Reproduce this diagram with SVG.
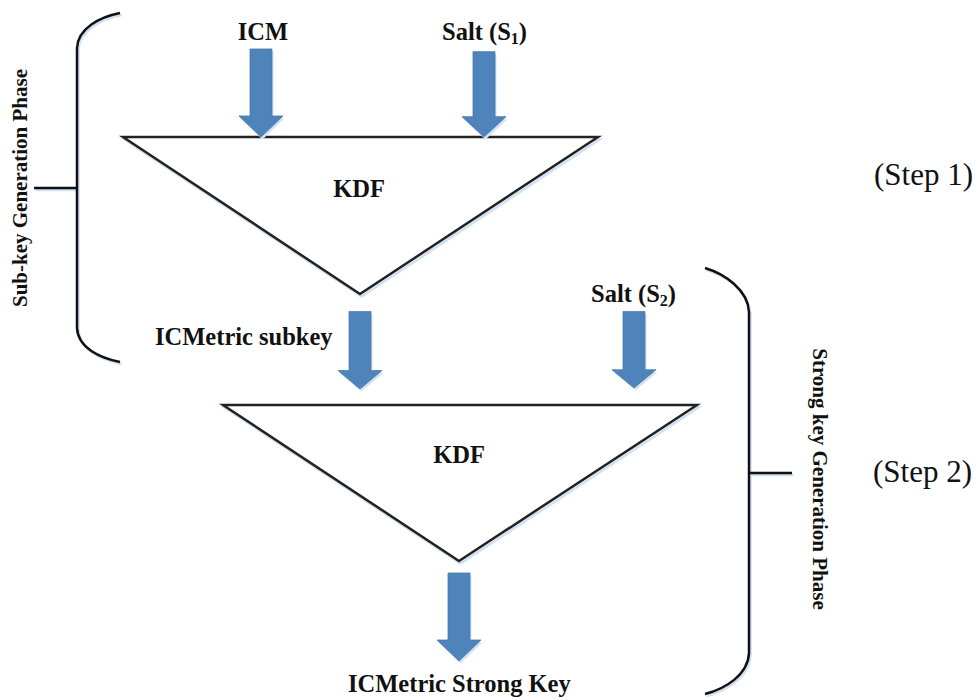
<svg xmlns="http://www.w3.org/2000/svg" width="978" height="700" viewBox="0 0 978 700">
  <style>
    .lbl { font-family: "Liberation Serif", "Times New Roman", serif; font-weight: bold; font-size: 24.5px; fill: #111; }
    .sub { font-size: 16px; }
    .phase { font-family: "Liberation Serif", "Times New Roman", serif; font-weight: bold; font-size: 21px; fill: #111; }
    .step { font-family: "Liberation Serif", "Times New Roman", serif; font-size: 31px; fill: #111; }
    .tri { fill: #fff; stroke: #222; stroke-width: 2.5; stroke-linejoin: miter; }
    .shadow { fill: none; stroke: #cfe1f3; stroke-width: 2.5; }
    .brace { fill: none; stroke: #111; stroke-width: 2.5; }
    .arrow { fill: #4f84bb; stroke: #467aae; stroke-width: 0.8; }
    .arrow-sh { fill: #d3e3f3; }
  </style>
  <defs>
    <!-- block arrow pointing down, origin at its tip -->
    <polygon id="blk" points="-11,-88 11,-88 11,-21 22,-21 0,0 -22,-21 -11,-21"/>
  </defs>

  <rect width="978" height="700" fill="#fff"/>

  <!-- phase braces -->
  <g id="subkey-phase">
    <path class="shadow" transform="translate(1.5,2)" d="M120,13 C100,17 78,28 77,48 L77,328 C78,348 100,358 120,362 M34,188 L77,188"/>
    <path class="brace" d="M120,13 C100,17 78,28 77,48 L77,328 C78,348 100,358 120,362 M34,188 L77,188"/>
    <text class="phase" text-anchor="middle" transform="translate(27,188) rotate(-90)">Sub-key Generation Phase</text>
  </g>

  <g id="strongkey-phase">
    <path class="shadow" transform="translate(1.5,2)" d="M705,268 C725,274 748,290 749,312 L749,653 C748,675 725,689 705,694 M749,473 L792,473"/>
    <path class="brace" d="M705,268 C725,274 748,290 749,312 L749,653 C748,675 725,689 705,694 M749,473 L792,473"/>
    <text class="phase" text-anchor="middle" transform="translate(813,479) rotate(90)">Strong key Generation Phase</text>
  </g>

  <!-- KDF stages -->
  <g id="kdf1">
    <polygon class="shadow" transform="translate(1.5,2.5)" points="123,137 598,137 360,294"/>
    <polygon class="tri" points="123,137 598,137 360,294"/>
    <text class="lbl" x="359" y="197" text-anchor="middle">KDF</text>
  </g>

  <g id="kdf2">
    <polygon class="shadow" transform="translate(1.5,2.5)" points="223,405 697,405 459,561"/>
    <polygon class="tri" points="223,405 697,405 459,561"/>
    <text class="lbl" x="459" y="463" text-anchor="middle">KDF</text>
  </g>

  <!-- inputs and outputs -->
  <g id="icm">
    <text class="lbl" x="263" y="40" text-anchor="middle">ICM</text>
  </g>
  <g id="salt1">
    <text class="lbl" x="442" y="40">Salt (S<tspan class="sub" dy="4">1</tspan><tspan dy="-4">)</tspan></text>
  </g>
  <g id="subkey">
    <text class="lbl" x="155" y="345">ICMetric subkey</text>
  </g>
  <g id="salt2">
    <text class="lbl" x="591" y="302">Salt (S<tspan class="sub" dy="4">2</tspan><tspan dy="-4">)</tspan></text>
  </g>
  <g id="strongkey">
    <text class="lbl" x="348" y="692">ICMetric Strong Key</text>
  </g>

  <!-- step labels -->
  <g id="step1"><text class="step" x="874" y="185">(Step 1)</text></g>
  <g id="step2"><text class="step" x="873" y="482">(Step 2)</text></g>

  <!-- flow arrows -->
  <g id="connectors">
    <use href="#blk" class="arrow-sh" transform="translate(262.5,139.5)"/>
    <use href="#blk" class="arrow" transform="translate(261,137)"/>
    <use href="#blk" class="arrow-sh" transform="translate(485.5,139.5) scale(1,0.97)"/>
    <use href="#blk" class="arrow" transform="translate(484,137) scale(1,0.97)"/>
    <use href="#blk" class="arrow-sh" transform="translate(361.5,391.5) scale(1,0.88)"/>
    <use href="#blk" class="arrow" transform="translate(360,389) scale(1,0.88)"/>
    <use href="#blk" class="arrow-sh" transform="translate(635.5,390.5) scale(1,0.87)"/>
    <use href="#blk" class="arrow" transform="translate(634,388) scale(1,0.87)"/>
    <use href="#blk" class="arrow-sh" transform="translate(460.5,663.5)"/>
    <use href="#blk" class="arrow" transform="translate(459,661)"/>
  </g>
</svg>
